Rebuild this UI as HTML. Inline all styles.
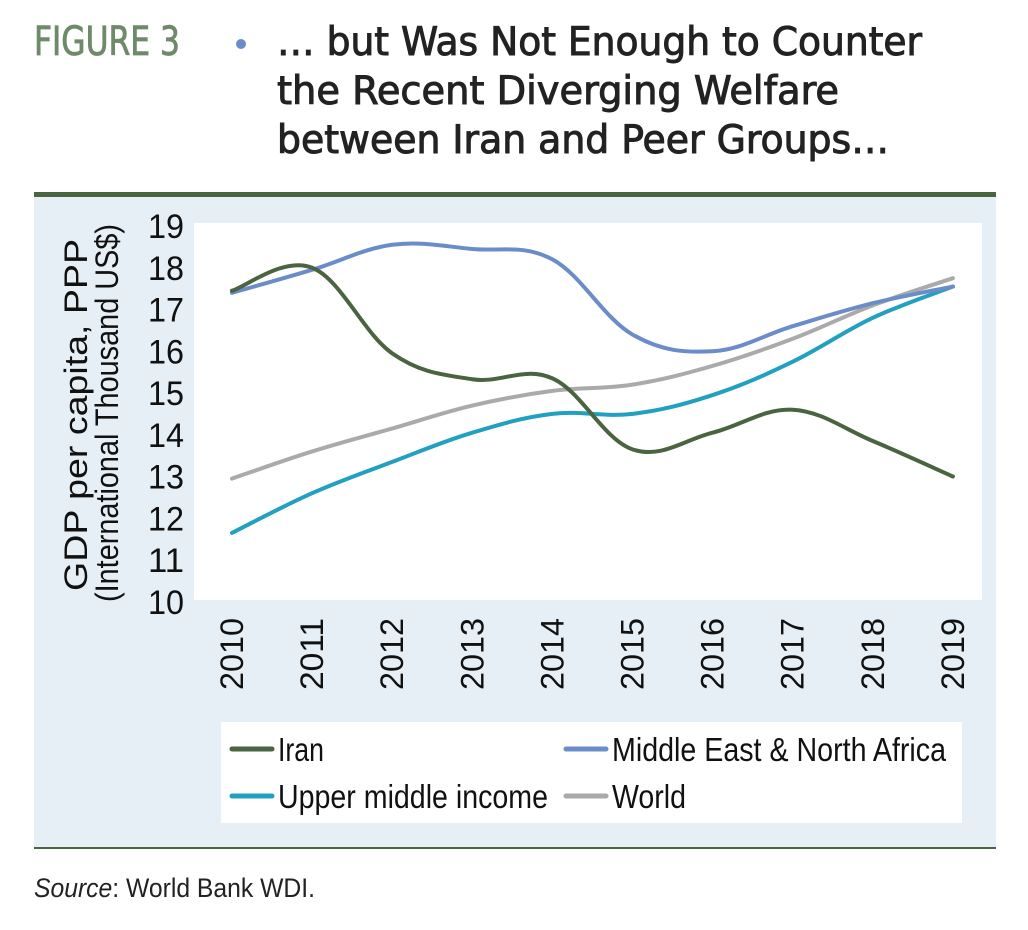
<!DOCTYPE html>
<html><head><meta charset="utf-8"><style>
html,body{margin:0;padding:0;background:#fff;width:1028px;height:930px;overflow:hidden}
svg{display:block}
text{font-family:"Liberation Sans Narrow","Liberation Sans",sans-serif}
</style></head><body>
<svg id="fig" width="1028" height="930" viewBox="0 0 1028 930" xmlns="http://www.w3.org/2000/svg">
  <text x="34" y="55" font-size="40" fill="#6f8a6a" stroke="#6f8a6a" stroke-width="0.8" style="font-family:'DejaVu Sans Condensed','DejaVu Sans',sans-serif" textLength="146" lengthAdjust="spacingAndGlyphs">FIGURE 3</text>
  <circle cx="241" cy="44" r="5" fill="#6a8cc8"/>
  <g font-size="39" fill="#222" stroke="#222" stroke-width="0.9">
    <text x="277" y="55" textLength="645" lengthAdjust="spacingAndGlyphs" style="font-family:'DejaVu Sans Condensed','DejaVu Sans',sans-serif">… but Was Not Enough to Counter</text>
    <text x="277" y="104" textLength="562" lengthAdjust="spacingAndGlyphs" style="font-family:'DejaVu Sans Condensed','DejaVu Sans',sans-serif">the Recent Diverging Welfare</text>
    <text x="277" y="153" textLength="612" lengthAdjust="spacingAndGlyphs" style="font-family:'DejaVu Sans Condensed','DejaVu Sans',sans-serif">between Iran and Peer Groups…</text>
  </g>
  <rect x="34" y="192" width="962" height="5" fill="#4a6340"/>
  <rect x="34" y="197" width="962" height="651" fill="#e6eff5"/>
  <rect x="34" y="847" width="962" height="2" fill="#4a6340"/>
  <rect x="194" y="223" width="788" height="377" fill="#fff"/>
  <g id="yticks"></g>
  <g id="xticks"></g>
  <g id="lines"></g>
  <g font-size="32" fill="#111">
    <text transform="translate(87,415) rotate(-90)" text-anchor="middle" textLength="352" lengthAdjust="spacingAndGlyphs">GDP per capita, PPP</text>
    <text transform="translate(118,413) rotate(-90)" text-anchor="middle" textLength="378" lengthAdjust="spacingAndGlyphs">(International Thousand US$)</text>
  </g>
  <rect x="221" y="722" width="741" height="101" fill="#fff"/>
  <g id="legend"></g>
  <text x="34" y="897" font-size="27" fill="#222" textLength="281" lengthAdjust="spacingAndGlyphs"><tspan font-style="italic">Source</tspan>: World Bank WDI.</text>
</svg>
<script>
const years = [2010,2011,2012,2013,2014,2015,2016,2017,2018,2019];
const yTicks = [10,11,12,13,14,15,16,17,18,19];
const iran = [17.45,18.0,15.95,15.33,15.35,13.65,14.05,14.6,13.85,13.0];
const mena = [17.4,17.95,18.55,18.45,18.2,16.4,16.0,16.6,17.15,17.55];
const umi = [11.65,12.6,13.35,14.05,14.5,14.5,14.95,15.75,16.8,17.55];
const world = [12.95,13.6,14.15,14.7,15.05,15.2,15.65,16.3,17.1,17.75];
const seriesNames = ["Iran","Middle East & North Africa","Upper middle income","World"];
const seriesColors = ["#4a6340","#6a8cc8","#22a0c0","#aaaaaa"];
const seriesData = [iran, mena, umi, world];
const NS="http://www.w3.org/2000/svg";
const xs = i => 232 + i*80.1;
const ys = v => 226 + (19 - v)*41.75;
function mk(tag, attrs, parent){const e=document.createElementNS(NS,tag);for(const k in attrs)e.setAttribute(k,attrs[k]);parent.appendChild(e);return e;}
const yg=document.getElementById('yticks');
yTicks.forEach(v=>{
  const t=mk('text',{x:184,y:ys(v)+12,'text-anchor':'end','font-size':34,fill:'#111',textLength:36,lengthAdjust:'spacingAndGlyphs'},yg);
  
  
  t.textContent=v;
});
const xg=document.getElementById('xticks');
years.forEach((yr,i)=>{
  const t=mk('text',{transform:`translate(${xs(i)+11},618) rotate(-90)`,'text-anchor':'end','font-size':32,fill:'#111',textLength:72,lengthAdjust:'spacingAndGlyphs'},xg);
  
  
  t.textContent=yr;
});
function smooth(pts){
  let d=`M${pts[0][0]},${pts[0][1]}`;
  for(let i=0;i<pts.length-1;i++){
    const p0=pts[i-1]||pts[i],p1=pts[i],p2=pts[i+1],p3=pts[i+2]||p2;
    const k=0.18;
    const c1=[p1[0]+(p2[0]-p0[0])*k,p1[1]+(p2[1]-p0[1])*k];
    const c2=[p2[0]-(p3[0]-p1[0])*k,p2[1]-(p3[1]-p1[1])*k];
    d+=` C${c1[0]},${c1[1]} ${c2[0]},${c2[1]} ${p2[0]},${p2[1]}`;
  }
  return d;
}
const lg=document.getElementById('lines');
const order=[3,2,1,0];
order.forEach(s=>{
  const pts=seriesData[s].map((v,i)=>[xs(i),ys(v)]);
  const p=mk('path',{d:smooth(pts),fill:'none',stroke:seriesColors[s],'stroke-width':4,'stroke-linecap':'round'},lg);
  
  
});
const leg=document.getElementById('legend');
const legPos=[[232,749],[566,749],[232,796],[566,796]];
const legW=[46,334,270,74];
seriesNames.forEach((n,i)=>{
  const [x,y]=legPos[i];
  const g=mk('g',{},leg);
  
  
  mk('line',{x1:x,y1:y,x2:x+40,y2:y,stroke:seriesColors[i],'stroke-width':5,'stroke-linecap':'round'},g);
  const t=mk('text',{x:x+46,y:y+12,'font-size':33,fill:'#111',textLength:legW[i],lengthAdjust:'spacingAndGlyphs'},g);
  t.textContent=n;
});
</script>
</body></html>
